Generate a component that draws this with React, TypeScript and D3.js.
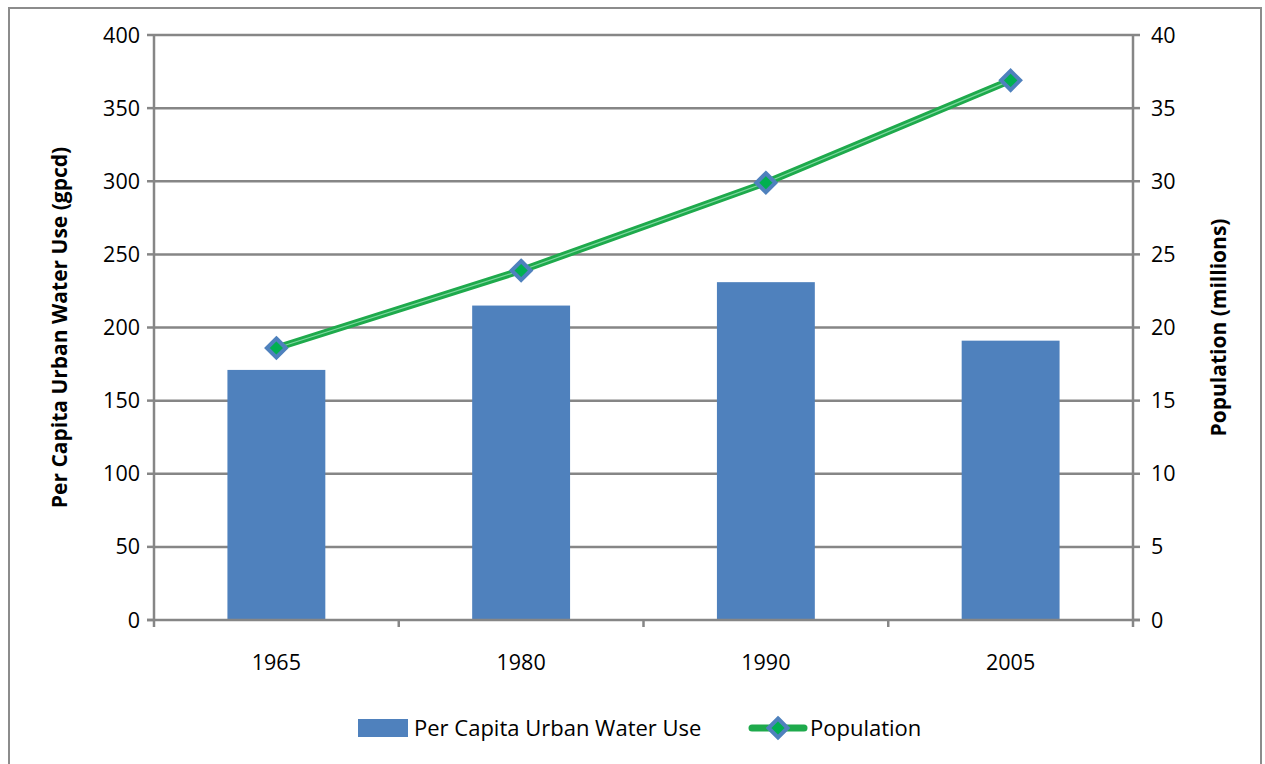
import React, { useRef, useEffect } from 'react';
import * as d3 from 'd3';

const years = ['1965', '1980', '1990', '2005'];
const waterUse = [171, 215, 231, 191];
const population = [18.6, 23.9, 29.9, 36.9];
const leftTicks = [0, 50, 100, 150, 200, 250, 300, 350, 400];
const rightTicks = [0, 5, 10, 15, 20, 25, 30, 35, 40];

const FONT = "'Open Sans', 'Liberation Sans', sans-serif";
const GRID = '#868686';
const BAR = '#4F81BD';
const LINE = '#1EAA4C';

export default function App() {
  const ref = useRef<SVGSVGElement>(null);

  useEffect(() => {
    if (!ref.current) return;
    draw(ref.current);
  }, []);

  return (
    <svg
      ref={ref}
      width={1265}
      height={764}
      style={{ position: 'absolute', left: 0, top: 0, background: '#fff' }}
    />
  );
}

function draw(el: SVGSVGElement) {
  const svg = d3.select(el);
  svg.selectAll('*').remove();

  const left = 154, right = 1133, top = 35, bottom = 620;

  // outer frame
  svg.append('rect')
    .attr('x', 9).attr('y', 8).attr('width', 1252).attr('height', 770)
    .attr('fill', 'none').attr('stroke', '#8c8c8c').attr('stroke-width', 2);

  const x = d3.scaleBand().domain(years).range([left, right])
    .paddingInner(0.6).paddingOuter(0.3);
  const yL = d3.scaleLinear().domain([0, 400]).range([bottom, top]);
  const yR = d3.scaleLinear().domain([0, 40]).range([bottom, top]);

  // gridlines
  svg.append('g').selectAll('line').data(leftTicks.slice(1)).enter().append('line')
    .attr('x1', left).attr('x2', right)
    .attr('y1', d => yL(d)).attr('y2', d => yL(d))
    .attr('stroke', GRID).attr('stroke-width', 2.5);

  // bars
  svg.append('g').selectAll('rect').data(waterUse).enter().append('rect')
    .attr('x', (_, i) => x(years[i])!)
    .attr('y', d => yL(d))
    .attr('width', x.bandwidth())
    .attr('height', d => bottom - yL(d))
    .attr('fill', BAR);

  // axes
  const axisG = svg.append('g').attr('stroke', GRID).attr('stroke-width', 2.5);
  axisG.append('line').attr('x1', left).attr('x2', left).attr('y1', top).attr('y2', bottom);
  axisG.append('line').attr('x1', right).attr('x2', right).attr('y1', top).attr('y2', bottom);
  axisG.append('line').attr('x1', left - 7).attr('x2', right + 7).attr('y1', bottom).attr('y2', bottom);
  leftTicks.forEach(t => {
    axisG.append('line').attr('x1', left - 7).attr('x2', left).attr('y1', yL(t)).attr('y2', yL(t));
  });
  rightTicks.forEach(t => {
    axisG.append('line').attr('x1', right).attr('x2', right + 7).attr('y1', yR(t)).attr('y2', yR(t));
  });
  d3.range(years.length + 1).forEach(i => {
    const xx = left + i * (right - left) / years.length;
    axisG.append('line').attr('x1', xx).attr('x2', xx).attr('y1', bottom).attr('y2', bottom + 7);
  });

  const txt = svg.append('g').attr('font-family', FONT).attr('font-size', 21.5).attr('fill', '#000');
  leftTicks.forEach(t => {
    txt.append('text').attr('x', left - 14).attr('y', yL(t)).attr('dy', '0.35em')
      .attr('text-anchor', 'end').text(t);
  });
  rightTicks.forEach(t => {
    txt.append('text').attr('x', right + 18).attr('y', yR(t)).attr('dy', '0.35em')
      .attr('text-anchor', 'start').text(t);
  });
  years.forEach(yr => {
    txt.append('text').attr('x', x(yr)! + x.bandwidth() / 2).attr('y', 670)
      .attr('text-anchor', 'middle').text(yr);
  });

  // axis titles
  txt.append('text')
    .attr('transform', `translate(67,${(top + bottom) / 2}) rotate(-90)`)
    .attr('text-anchor', 'middle').attr('font-weight', 'bold').attr('font-size', 21)
    .text('Per Capita Urban Water Use (gpcd)');
  txt.append('text')
    .attr('transform', `translate(1226,${(top + bottom) / 2}) rotate(-90)`)
    .attr('text-anchor', 'middle').attr('font-weight', 'bold').attr('font-size', 21)
    .text('Population (millions)');

  // population line
  const cx = (i: number) => x(years[i])! + x.bandwidth() / 2;
  const line = d3.line<number>().x((_, i) => cx(i)).y(d => yR(d));
  svg.append('path').datum(population).attr('d', line)
    .attr('fill', 'none').attr('stroke', LINE).attr('stroke-width', 7).attr('stroke-linecap', 'round');
  svg.append('path').datum(population).attr('d', line)
    .attr('fill', 'none').attr('stroke', '#7fd8a0').attr('stroke-width', 1.2);

  const diamond = d3.symbol().type(d3.symbolDiamond2).size(230);
  svg.append('g').selectAll('path').data(population).enter().append('path')
    .attr('d', diamond)
    .attr('transform', (d, i) => `translate(${cx(i)},${yR(d)})`)
    .attr('fill', '#00B050').attr('stroke', BAR).attr('stroke-width', 4);

  // legend
  const lg = svg.append('g');
  lg.append('rect').attr('x', 358).attr('y', 719).attr('width', 50).attr('height', 18).attr('fill', BAR);
  lg.append('text').attr('x', 414).attr('y', 728).attr('dy', '0.35em')
    .attr('font-family', FONT).attr('font-size', 22).text('Per Capita Urban Water Use');
  lg.append('line').attr('x1', 752).attr('x2', 804).attr('y1', 728).attr('y2', 728)
    .attr('stroke', LINE).attr('stroke-width', 7).attr('stroke-linecap', 'round');
  lg.append('path').attr('d', diamond).attr('transform', 'translate(778,728)')
    .attr('fill', '#00B050').attr('stroke', BAR).attr('stroke-width', 4);
  lg.append('text').attr('x', 810).attr('y', 728).attr('dy', '0.35em')
    .attr('font-family', FONT).attr('font-size', 22).text('Population');
}
